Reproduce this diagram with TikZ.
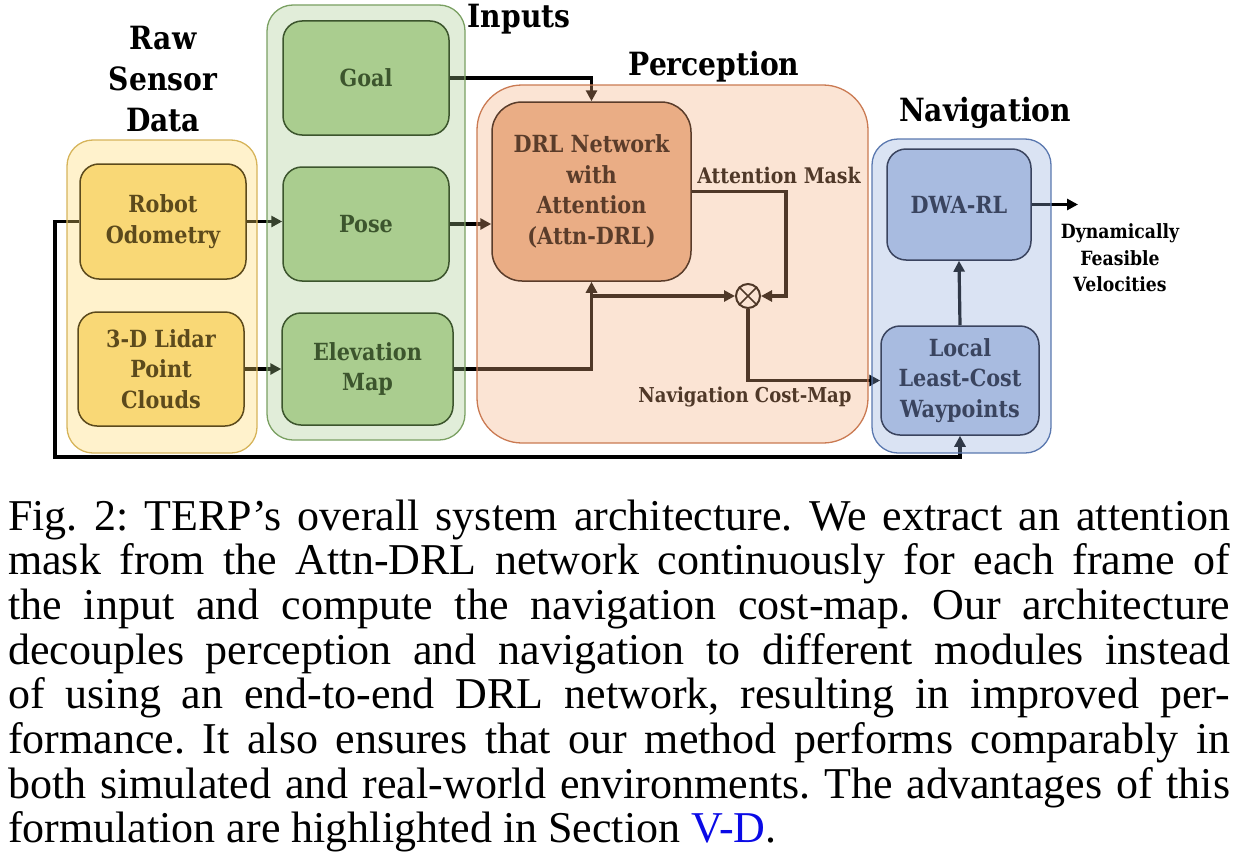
\documentclass[tikz,border=0pt]{standalone}
\usepackage{fontspec}
\setmainfont{Liberation Serif}
\newfontfamily\dfont{DejaVu Serif}[FakeStretch=0.88]
\usetikzlibrary{arrows.meta}
\frenchspacing
\definecolor{rawC}{RGB}{255,216,100}
\definecolor{inpC}{RGB}{164,200,139}
\definecolor{perC}{RGB}{242,173,124}
\definecolor{navC}{RGB}{143,170,218}
\definecolor{rawB}{RGB}{214,180,90}
\definecolor{inpB}{RGB}{122,160,98}
\definecolor{perB}{RGB}{202,122,82}
\definecolor{navB}{RGB}{90,120,175}
\definecolor{rawF}{RGB}{249,216,118}
\definecolor{inpF}{RGB}{170,205,143}
\definecolor{perF}{RGB}{234,173,133}
\definecolor{navF}{RGB}{168,187,224}
\definecolor{rawT}{RGB}{92,74,28}
\definecolor{inpT}{RGB}{60,85,45}
\definecolor{perT}{RGB}{90,60,42}
\definecolor{navT}{RGB}{58,68,95}
\definecolor{linkblue}{RGB}{10,10,230}
\begin{document}
\frenchspacing
\begin{tikzpicture}[x=1pt,y=-1pt,
  conn/.style={line width=3.2pt,-{Triangle[length=11pt,width=11pt]}},
  grp/.style={rounded corners=26pt,line width=1.3pt,fill opacity=0.33,inner sep=0pt},
  ibox/.style={rounded corners=19pt,line width=1.5pt,align=center,inner sep=0pt,
    font=\dfont\bfseries\fontsize{23.6}{30.5}\selectfont},
  ttl/.style={align=center,font=\dfont\bfseries\fontsize{32}{41}\selectfont},
  lbl/.style={align=center,font=\dfont\bfseries\fontsize{20.5}{26}\selectfont},
  captxt/.style={anchor=base west,inner sep=0pt,font=\frenchspacing\fontsize{44}{44.7}\selectfont}
]
\useasboundingbox (0,0) rectangle (1252,859);

% ---- inner box positions
\node[ibox,minimum width=166pt,minimum height=115pt] (odom) at (163,221.5) {};
\node[ibox,minimum width=166pt,minimum height=114pt] (lidar) at (161,369) {};
\node[ibox,minimum width=166pt,minimum height=114pt] (goal) at (366,78) {};
\node[ibox,minimum width=166pt,minimum height=114pt] (pose) at (366,224) {};
\node[ibox,minimum width=171pt,minimum height=112pt] (elev) at (367.5,369) {};
\node[ibox,minimum width=199pt,minimum height=179pt] (drl) at (591.5,191.5) {};
\node[ibox,minimum width=144pt,minimum height=111pt] (dwa) at (959,204.5) {};
\node[ibox,minimum width=158pt,minimum height=109pt] (local) at (960,380.5) {};
\node[circle,draw=black,fill=white,line width=2pt,minimum size=24pt,inner sep=0pt] (ot) at (748,296) {};
\draw[line width=1.6pt] (ot.north east) -- (ot.south west) (ot.north west) -- (ot.south east);
\coordinate (amc) at (786,296);
\coordinate (fb) at (55,457);
\coordinate (out) at (1078,204.5);

% ---- connectors (drawn black, tinted by translucent groups)
\draw[conn] (odom.east) -- (odom.east -| pose.west);
\draw[conn] (lidar.east) -- (lidar.east -| elev.west);
\draw[conn] (goal.east) -| (drl.north);
\draw[conn] (pose.east) -- (pose.east -| drl.west);
\draw[conn] (elev.east) -| (drl.south);
\draw[conn] (drl.south |- ot.west) -- (ot.west);
\draw[conn] (drl.east) -| (amc) -- (ot.east);
\draw[conn] (ot.south) |- (local.west);
\draw[conn] (local.north) -- (dwa.south);
\draw[conn] (dwa.east) -- (out);
\draw[conn] (odom.west) -| (fb) -| (local.south);
\node[lbl,font=\dfont\bfseries\fontsize{21.5}{26}\selectfont] (am) at (779,175) {Attention Mask};
\node[lbl] (ncm) at (745,397) {Navigation Cost-Map};

% ---- translucent groups
\node[grp,fill=rawC,draw=rawB,minimum width=190pt,minimum height=313pt] (raw) at (162,296.5) {};
\node[grp,fill=inpC,draw=inpB,minimum width=198pt,minimum height=435pt] (inp) at (366,222.5) {};
\node[grp,fill=perC,draw=perB,rounded corners=45pt,minimum width=391pt,minimum height=358pt] (per) at (672.5,264) {};
\node[grp,fill=navC,draw=navB,minimum width=179pt,minimum height=314pt] (nav) at (961.5,296) {};

% ---- inner boxes drawn
\node[ibox,fill=rawF,draw=rawT,text=rawT,minimum width=166pt,minimum height=115pt] at (odom) {Robot\\Odometry};
\node[ibox,fill=rawF,draw=rawT,text=rawT,minimum width=166pt,minimum height=114pt] at (lidar) {3-D Lidar\\Point\\Clouds};
\node[ibox,fill=inpF,draw=inpT,text=inpT,minimum width=166pt,minimum height=114pt] at (goal) {Goal};
\node[ibox,fill=inpF,draw=inpT,text=inpT,minimum width=166pt,minimum height=114pt] at (pose) {Pose};
\node[ibox,fill=inpF,draw=inpT,text=inpT,minimum width=171pt,minimum height=112pt] at (elev) {Elevation\\Map};
\node[ibox,rounded corners=30pt,fill=perF,draw=perT,text=perT,minimum width=199pt,minimum height=179pt] at (drl) {DRL Network\\with\\Attention\\(Attn-DRL)};
\node[ibox,fill=navF,draw=navT,text=navT,minimum width=144pt,minimum height=111pt] at (dwa) {DWA-RL};
\node[ibox,fill=navF,draw=navT,text=navT,minimum width=158pt,minimum height=109pt] at (local) {Local\\Least-Cost\\Waypoints};

% ---- titles
\node[ttl] (t1) at (163,79) {Raw\\Sensor\\Data};
\node[ttl] (t2) at (519,19) {Inputs};
\node[ttl] (t3) at (714,67) {Perception};
\node[ttl] (t4) at (985,113) {Navigation};
\node[lbl,font=\dfont\bfseries\fontsize{19.6}{26.5}\selectfont] (dfv) at (1120,258) {Dynamically\\Feasible\\Velocities};

% ---- caption
\node[captxt] (c1) at (8,530) {\makebox[1222pt][s]{Fig. 2: TERP’s overall system architecture. We extract an attention}};
\node[captxt] (c2) at (8,574.7) {\makebox[1222pt][s]{mask from the Attn-DRL network continuously for each frame of}};
\node[captxt] (c3) at (8,619.4) {\makebox[1222pt][s]{the input and compute the navigation cost-map. Our architecture}};
\node[captxt] (c4) at (8,664.1) {\makebox[1222pt][s]{decouples perception and navigation to different modules instead}};
\node[captxt] (c5) at (8,708.8) {\makebox[1222pt][s]{of using an end-to-end DRL network, resulting in improved per-}};
\node[captxt] (c6) at (8,753.5) {\makebox[1222pt][s]{formance. It also ensures that our method performs comparably in}};
\node[captxt] (c7) at (8,798.2) {\makebox[1222pt][s]{both simulated and real-world environments. The advantages of this}};
\node[captxt] (c8) at (8,842.9) {formulation are highlighted in Section \textcolor{linkblue}{V-D}.};
\end{tikzpicture}
\end{document}
